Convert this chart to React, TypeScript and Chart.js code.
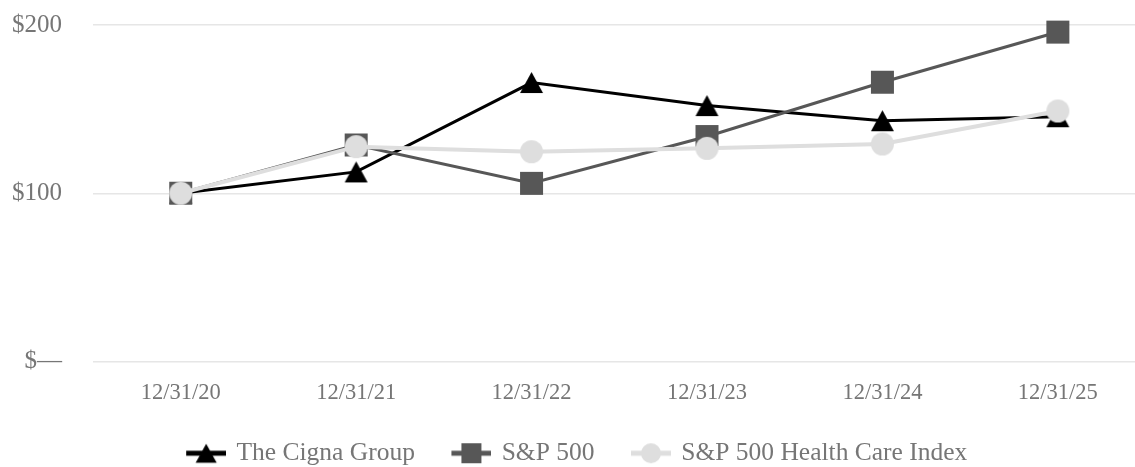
import React, { useEffect, useRef } from "react";
import { Chart, registerables } from "chart.js";

Chart.register(...registerables);

const categories = ["12/31/20", "12/31/21", "12/31/22", "12/31/23", "12/31/24", "12/31/25"];
const seriesNames = ["The Cigna Group", "S&P 500", "S&P 500 Health Care Index"];
const cignaValues = [100, 112.7, 165.8, 152.1, 143.1, 145.5];
const sp500Values = [100, 128.7, 105.9, 133.7, 166.0, 195.8];
const healthCareValues = [100, 127.7, 124.7, 126.7, 129.3, 148.9];
const yTicks = [0, 100, 200];
const yTickLabels = ["$—", "$100", "$200"];

const FONT = "'Liberation Serif', 'Times New Roman', serif";
const TEXT = "#767676";
const COLORS = ["#000000", "#575757", "#dedede"];
const KINDS = ["triangle", "square", "circle"];
const LEGEND_BOX = 64;

function drawShape(ctx: CanvasRenderingContext2D, kind: string, cx: number, cy: number, w: number, h: number) {
  ctx.beginPath();
  if (kind === "triangle") {
    ctx.moveTo(cx, cy - h / 2);
    ctx.lineTo(cx + w / 2, cy + h / 2);
    ctx.lineTo(cx - w / 2, cy + h / 2);
    ctx.closePath();
  } else if (kind === "square") {
    ctx.rect(cx - w / 2, cy - h / 2, w, h);
  } else {
    ctx.arc(cx, cy, w / 2, 0, Math.PI * 2);
  }
  ctx.fill();
}

function makeMarker(kind: string, color: string, w: number, h: number) {
  const c = document.createElement("canvas");
  c.width = w + 2;
  c.height = h + 2;
  const ctx = c.getContext("2d")!;
  ctx.fillStyle = color;
  drawShape(ctx, kind, c.width / 2, c.height / 2, w, h);
  return c;
}

function makeLegendIcon(kind: string, color: string, lineW: number) {
  const c = document.createElement("canvas");
  const W = LEGEND_BOX + 5;
  c.width = W;
  c.height = 24;
  const ctx = c.getContext("2d")!;
  ctx.fillStyle = color;
  ctx.fillRect(W - 40, 12 - lineW / 2, 40, lineW);
  const mw = kind === "triangle" ? 21 : 20;
  const mh = kind === "triangle" ? 19 : 20;
  drawShape(ctx, kind, W - 20, 12, mw, mh);
  return c;
}

export default function App() {
  const ref = useRef<HTMLCanvasElement>(null);

  useEffect(() => {
    document.body.style.margin = "0";
    const markers = [
      makeMarker("triangle", COLORS[0], 23, 21),
      makeMarker("square", COLORS[1], 23, 23),
      makeMarker("circle", COLORS[2], 23, 23),
    ];
    const icons = KINDS.map((k, i) => makeLegendIcon(k, COLORS[i], 5));
    const seriesValues = [cignaValues, sp500Values, healthCareValues];
    const widths = [3, 3, 4];
    const orders = [3, 2, 1];

    const chart = new Chart(ref.current!, {
      type: "line",
      data: {
        datasets: seriesValues.map((vals, i) => ({
          label: seriesNames[i],
          data: vals.map((v, j) => ({ x: j, y: v })),
          borderColor: COLORS[i],
          backgroundColor: COLORS[i],
          borderWidth: widths[i],
          tension: 0,
          pointStyle: markers[i] as any,
          pointRadius: 11,
          pointHoverRadius: 11,
          order: orders[i],
          clip: false as any,
        })),
      },
      options: {
        animation: false,
        responsive: false,
        layout: { autoPadding: false, padding: { top: 25, bottom: -9, left: -8, right: 0 } },
        plugins: {
          tooltip: { enabled: false },
          legend: {
            position: "bottom",
            labels: {
              usePointStyle: true,
              pointStyleWidth: LEGEND_BOX,
              padding: 10,
              color: TEXT,
              font: { family: FONT, size: 25.5 },
              generateLabels: () =>
                seriesNames.map((t, i) => ({
                  text: t,
                  pointStyle: icons[i] as any,
                  fillStyle: "transparent",
                  strokeStyle: "transparent",
                  lineWidth: 0,
                  hidden: false,
                  datasetIndex: i,
                  fontColor: TEXT,
                })),
            },
          },
        },
        scales: {
          x: {
            type: "linear",
            min: -0.5,
            max: 5.44,
            afterBuildTicks: (s: any) => {
              s.ticks = categories.map((_, i) => ({ value: i }));
            },
            afterFit: (s: any) => {
              s.height = 69;
              s.paddingLeft = 0;
              s.paddingRight = 0;
            },
            ticks: {
              callback: (v: any) => categories[Math.round(Number(v))],
              color: TEXT,
              font: { family: FONT, size: 22.5 },
              padding: 10,
              maxRotation: 0,
              autoSkip: false,
            },
            grid: { display: false },
            border: { display: false },
          },
          y: {
            min: 0,
            max: 200,
            afterBuildTicks: (s: any) => {
              s.ticks = yTicks.map((v) => ({ value: v }));
            },
            afterFit: (s: any) => {
              s.width = 101;
              s.paddingTop = 0;
              s.paddingBottom = 0;
            },
            ticks: {
              callback: (v: any) => yTickLabels[yTicks.indexOf(Number(v))],
              color: TEXT,
              font: { family: FONT, size: 25 },
              padding: 31,
            },
            grid: { color: "#e6e6e6", lineWidth: 1.5, drawTicks: false },
            border: { display: false },
          },
        },
      },
    });
    return () => chart.destroy();
  }, []);

  return (
    <div style={{ width: 1135, height: 467 }}>
      <canvas ref={ref} width={1135} height={467} style={{ display: "block" }} />
    </div>
  );
}
